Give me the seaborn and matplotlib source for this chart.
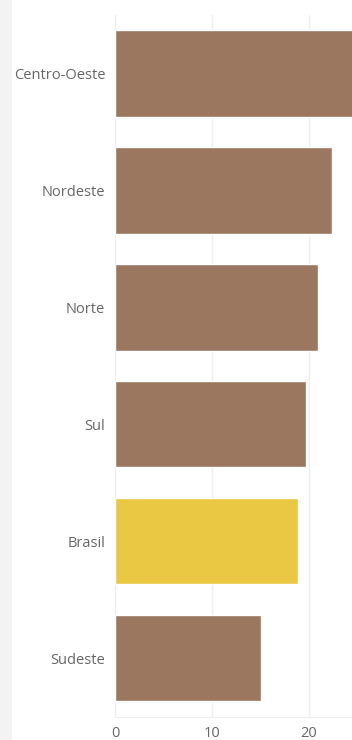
import matplotlib
matplotlib.use("Agg")
import matplotlib.pyplot as plt
import seaborn as sns
import pandas as pd
from matplotlib.patches import Rectangle

regions = ["Centro-Oeste", "Nordeste", "Norte", "Sul", "Brasil", "Sudeste"]
values = [25.0, 22.4, 20.9, 19.7, 18.9, 15.1]
colors = ["#9b7760", "#9b7760", "#9b7760", "#9b7760", "#ebc844", "#9b7760"]

df = pd.DataFrame({"regiao": regions, "valor": values})

sns.set_style("white")
plt.rcParams["font.family"] = ["Open Sans", "DejaVu Sans"]

fig = plt.figure(figsize=(3.52, 7.40), dpi=100)
# light gray strip on the left edge
fig.patches.append(Rectangle((0, 0), 12 / 352, 1, transform=fig.transFigure,
                             facecolor="#f3f3f3", edgecolor="none", zorder=0))
ax = fig.add_axes([115 / 352, 23.5 / 740, 237 / 352, 1 - 38.5 / 740])

sns.barplot(data=df, x="valor", y="regiao", hue="regiao", palette=colors,
            saturation=1, legend=False, width=0.74, ax=ax, zorder=2)

ax.set_xlim(0, 24.43)
ax.set_ylim(5.5, -0.5)
ax.set_xticks([0, 10, 20])
ax.grid(axis="x", color="#eeeeee", linewidth=1, zorder=0)
ax.set_axisbelow(True)
for s in ["top", "right", "left"]:
    ax.spines[s].set_visible(False)
ax.spines["bottom"].set_color("#eeeeee")
ax.set_xlabel("")
ax.set_ylabel("")
ax.tick_params(axis="both", length=0, labelsize=10.5, colors="#666666")
ax.tick_params(axis="y", pad=7)
ax.tick_params(axis="x", pad=7)

fig.savefig("out.png", dpi=100)
